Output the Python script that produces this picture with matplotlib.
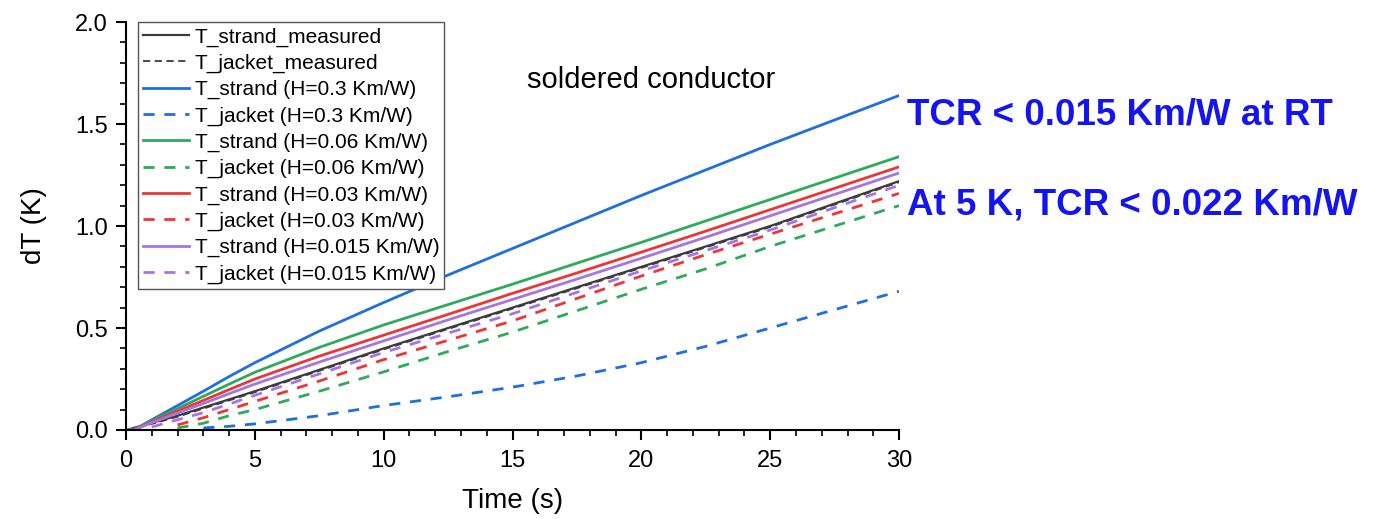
import numpy as np
import matplotlib.pyplot as plt
from matplotlib.ticker import MultipleLocator

plt.rcParams['font.family'] = ['Liberation Sans', 'DejaVu Sans']

# time points (s)
t = [0, 0.3, 1, 2, 3, 4, 5, 7.5, 10, 12.5, 15, 17.5, 20, 22.5, 25, 27.5, 30]
nan = np.nan

# measured
strand_meas = [0, 0.01, 0.035, 0.07, 0.11, 0.15, 0.19, 0.295, 0.40, 0.50, 0.60, 0.70, 0.80, 0.90, 1.00, 1.11, 1.22]
jacket_meas = [0, 0.008, 0.03, 0.065, 0.105, 0.145, 0.185, 0.29, 0.395, 0.495, 0.595, 0.695, 0.795, 0.895, 0.995, 1.105, 1.215]

# simulated, strand
strand_03 = [0, 0, 0.05, 0.12, 0.19, 0.262, 0.33, 0.485, 0.625, 0.76, 0.89, 1.02, 1.15, 1.275, 1.40, 1.52, 1.64]
strand_006 = [0, 0, 0.045, 0.105, 0.165, 0.225, 0.283, 0.405, 0.515, 0.615, 0.715, 0.818, 0.92, 1.025, 1.13, 1.235, 1.34]
strand_003 = [0, 0, 0.04, 0.093, 0.145, 0.198, 0.25, 0.362, 0.465, 0.567, 0.67, 0.77, 0.872, 0.975, 1.08, 1.185, 1.29]
strand_0015 = [0, 0, 0.036, 0.083, 0.13, 0.178, 0.225, 0.333, 0.437, 0.54, 0.64, 0.74, 0.842, 0.945, 1.05, 1.155, 1.26]

# simulated, jacket
jacket_03 = [nan, nan, nan, nan, 0.01, 0.018, 0.03, 0.07, 0.12, 0.163, 0.21, 0.265, 0.33, 0.41, 0.50, 0.59, 0.68]
jacket_006 = [nan, nan, nan, 0.01, 0.033, 0.07, 0.10, 0.19, 0.285, 0.385, 0.48, 0.585, 0.69, 0.79, 0.90, 1.00, 1.10]
jacket_003 = [nan, nan, nan, 0.025, 0.06, 0.10, 0.14, 0.24, 0.345, 0.44, 0.535, 0.645, 0.755, 0.86, 0.96, 1.06, 1.16]
jacket_0015 = [nan, nan, 0.015, 0.05, 0.085, 0.127, 0.17, 0.275, 0.38, 0.475, 0.57, 0.675, 0.78, 0.88, 0.98, 1.09, 1.20]

blue = '#1f6fe0'
green = '#2eaa5c'
red = '#ee3535'
purple = '#a874e0'
grey = '#3c3c3c'

fig = plt.figure(figsize=(13.73, 5.19), dpi=100)
ax = fig.add_axes([0.0918, 0.1715, 0.563, 0.786])

ax.plot(t, strand_meas, color=grey, lw=1.6, label='T_strand_measured')
ax.plot(t, jacket_meas, color=grey, lw=1.3, dashes=(4, 2.5), label='T_jacket_measured')
ax.plot(t, strand_03, color=blue, lw=2, label='T_strand (H=0.3 Km/W)')
ax.plot(t, jacket_03, color=blue, lw=2, dashes=(4, 3.5), label='T_jacket (H=0.3 Km/W)')
ax.plot(t, strand_006, color=green, lw=2, label='T_strand (H=0.06 Km/W)')
ax.plot(t, jacket_006, color=green, lw=2, dashes=(4, 3.5), label='T_jacket (H=0.06 Km/W)')
ax.plot(t, strand_003, color=red, lw=2, label='T_strand (H=0.03 Km/W)')
ax.plot(t, jacket_003, color=red, lw=2, dashes=(4, 3.5), label='T_jacket (H=0.03 Km/W)')
ax.plot(t, strand_0015, color=purple, lw=2, label='T_strand (H=0.015 Km/W)')
ax.plot(t, jacket_0015, color=purple, lw=2, dashes=(4, 3.5), label='T_jacket (H=0.015 Km/W)')

ax.set_xlim(0, 30)
ax.set_ylim(0, 2.0)
ax.xaxis.set_major_locator(MultipleLocator(5))
ax.xaxis.set_minor_locator(MultipleLocator(1))
ax.yaxis.set_major_locator(MultipleLocator(0.5))
ax.yaxis.set_minor_locator(MultipleLocator(0.1))
ax.yaxis.set_major_formatter(plt.FormatStrFormatter('%.1f'))
ax.spines['top'].set_visible(False)
ax.spines['right'].set_visible(False)
for s in ['left', 'bottom']:
    ax.spines[s].set_linewidth(1.5)
ax.tick_params(which='major', length=7.2, width=1.5, labelsize=17)
ax.tick_params(which='minor', length=4.3, width=1.2)
ax.tick_params(axis='x', which='major', pad=7)
ax.tick_params(axis='y', which='major', pad=6)

ax.set_xlabel('Time (s)', fontsize=20, labelpad=12)
ax.set_ylabel('dT (K)', fontsize=20, labelpad=20)

leg = ax.legend(loc='upper left', bbox_to_anchor=(0.015, 1.0), borderaxespad=0,
                fontsize=15, handlelength=2.2, handletextpad=0.28, labelspacing=0.34,
                borderpad=0.25, fancybox=False, framealpha=1, edgecolor='#555555')
leg.get_frame().set_linewidth(1.0)

fig.text(527 / 1373, 1 - 88 / 519, 'soldered conductor', fontsize=21, ha='left', va='baseline')

fig.text(907 / 1373, 1 - 115 / 519, 'TCR < 0.015 Km/W at RT', color='#1414f0',
         fontsize=26.5, fontweight='bold', ha='left', va='center')
fig.text(907 / 1373, 1 - 205 / 519, 'At 5 K, TCR < 0.022 Km/W', color='#1414f0',
         fontsize=26.5, fontweight='bold', ha='left', va='center')

fig.savefig('out.png', dpi=100)
